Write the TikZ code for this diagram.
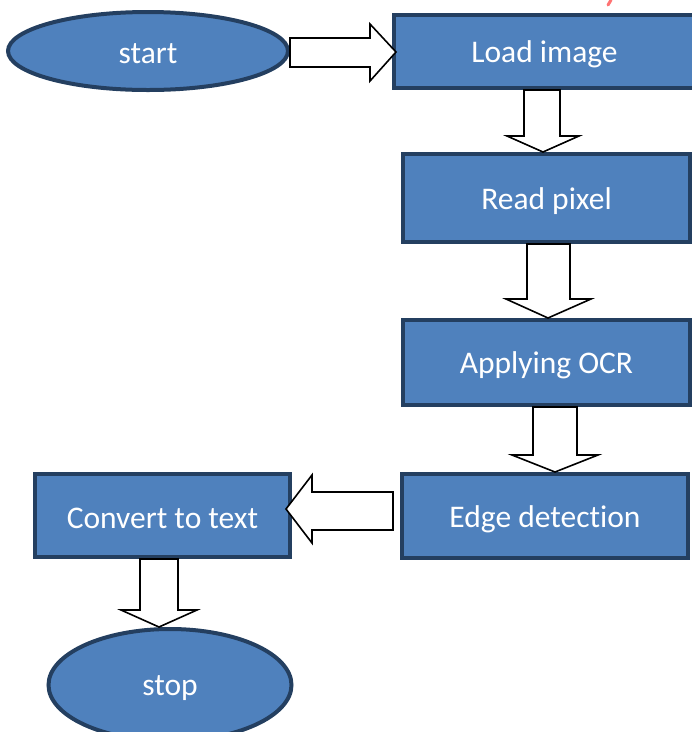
\documentclass[tikz,border=0pt]{standalone}
\usepackage{fontspec}
\setmainfont{Carlito}[Ligatures={NoCommon}]
\usetikzlibrary{shapes.geometric,calc}
\definecolor{boxfill}{HTML}{4F81BD}
\definecolor{boxline}{HTML}{243F60}
\newcommand\lowtxt[1]{\raisebox{-3pt}[\height][\depth]{#1}}
\tikzset{
  box/.style={rectangle, draw=boxline, line width=4pt, fill=boxfill, text=white, font=\fontsize{31.5}{37}\selectfont, inner sep=0pt},
  oval/.style={ellipse, draw=boxline, line width=4pt, fill=boxfill, text=white, font=\fontsize{31.5}{37}\selectfont, inner sep=0pt},
  blk/.style={draw=black, fill=white, line width=1.6pt, line join=miter}
}
\begin{document}
\begin{tikzpicture}[x=1pt,y=-1pt]
\useasboundingbox (0,0) rectangle (692,732);
\node[oval, minimum width=280, minimum height=78] (start) at (148,51) {\lowtxt{start}};
\node[box, minimum width=306, minimum height=73] (load) at (547,51.5) {\lowtxt{\hspace*{-5pt}Load image}};
\node[box, minimum width=287, minimum height=88] (read) at (546.5,198) {\lowtxt{Read pixel}};
\node[box, minimum width=287, minimum height=85] (ocr) at (546.5,362.5) {\lowtxt{Applying OCR}};
\node[box, minimum width=286, minimum height=84] (edge) at (545,516) {\lowtxt{Edge detection}};
\node[box, minimum width=255, minimum height=83] (conv) at (162.5,515.5) {\lowtxt{Convert to text}};
\node[oval, minimum width=243, minimum height=112] (stop) at (170,685) {\lowtxt{stop}};
% start -> load
\draw[blk] let \p1=(start.east), \p2=(load.west) in
  (\x1,{-38pt}) -- (370pt,{-38pt}) -- (370pt,{-24pt}) -- (\x2+4pt,{-52pt}) -- (370pt,{-81pt}) -- (370pt,{-67pt}) -- (\x1,{-67pt}) -- cycle;
% load -> read
\draw[blk] let \p1=(load.south), \p2=(read.north) in
  (524pt,\y1) -- (560pt,\y1) -- (560pt,\y2+16pt) -- (579pt,\y2+16pt) -- (543pt,\y2) -- (507pt,\y2+16pt) -- (524pt,\y2+16pt) -- cycle;
% read -> ocr
\draw[blk] let \p1=(read.south), \p2=(ocr.north) in
  (527pt,\y1) -- (570pt,\y1) -- (570pt,\y2+19pt) -- (591pt,\y2+19pt) -- (548pt,\y2) -- (506pt,\y2+19pt) -- (527pt,\y2+19pt) -- cycle;
% ocr -> edge
\draw[blk] let \p1=(ocr.south), \p2=(edge.north) in
  (533pt,\y1) -- (577pt,\y1) -- (577pt,\y2+17pt) -- (598pt,\y2+17pt) -- (555pt,\y2) -- (512pt,\y2+17pt) -- (533pt,\y2+17pt) -- cycle;
% edge -> convert
\draw[blk] let \p1=(edge.west), \p2=(conv.east) in
  (\x1-7pt,{-492pt}) -- (312pt,{-492pt}) -- (312pt,{-475pt}) -- (\x2-6pt,{-509pt}) -- (312pt,{-543pt}) -- (312pt,{-530pt}) -- (\x1-7pt,{-530pt}) -- cycle;
% convert -> stop
\draw[blk] let \p1=(conv.south), \p2=(stop.north) in
  (140pt,\y1) -- (178pt,\y1) -- (178pt,\y2+17pt) -- (197pt,\y2+17pt) -- (159pt,\y2) -- (121pt,\y2+17pt) -- (140pt,\y2+17pt) -- cycle;
% small red mark at top
\draw[red!55, line width=3pt, line cap=round] (608,5) -- (611,0);
\end{tikzpicture}
\end{document}
